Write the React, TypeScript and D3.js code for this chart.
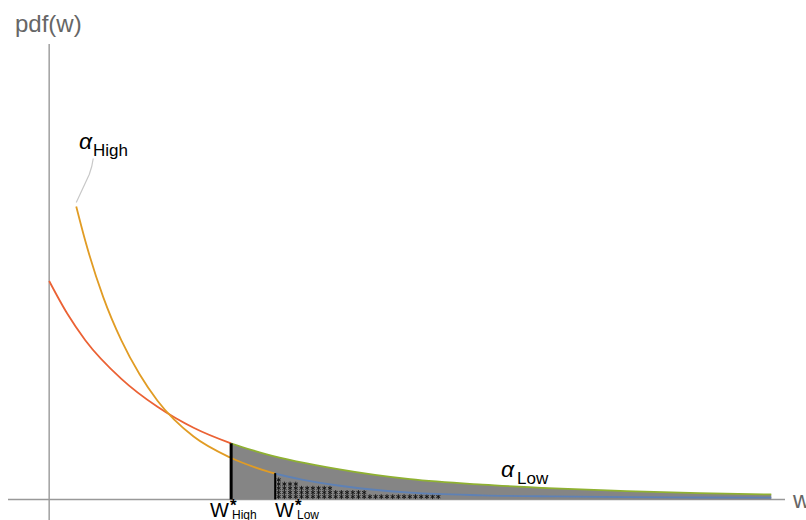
import React from 'react';
import * as d3 from 'd3';

// density for alpha_Low (red, continues in green beyond w*_High)
const lowW = [0, 0.25, 0.5, 1, 1.5, 2, 2.5, 3, 4, 5, 6, 7, 8, 9, 10];
const lowPdf = [1.0, 0.851, 0.729, 0.552, 0.424, 0.328, 0.259, 0.208, 0.139, 0.093, 0.068, 0.051, 0.038, 0.029, 0.023];
// density for alpha_High (orange, continues in blue beyond w*_Low)
const highW = [0.375, 0.5, 0.75, 1, 1.25, 1.5, 2, 2.5, 3, 3.5, 4, 5, 6, 7, 8, 9, 10];
const highPdf = [1.341, 1.184, 0.925, 0.728, 0.574, 0.452, 0.288, 0.193, 0.131, 0.091, 0.064, 0.031, 0.019, 0.014, 0.011, 0.009, 0.008];
// thresholds
const wStarHigh = 2.52;
const wStarLow = 3.13;
// number of '*' marks per hatch row, bottom row first
const starRowCounts = [29, 16, 10, 4, 1];
// axis extents
const xDomain = [-0.57, 10.19];
const yDomain = [-0.094, 2.085];

const WIDTH = 806;
const HEIGHT = 520;
const FONT = 'Liberation Sans, Arial, sans-serif';
const C_LOW = '#EB6235';
const C_HIGH = '#E19C24';
const C_LOW_TAIL = '#8FB131';
const C_HIGH_TAIL = '#5E81B5';

type P = [number, number];

function asterisk(cx: number, cy: number, r: number) {
  let d = '';
  for (let k = 0; k < 3; k++) {
    const a = Math.PI / 2 + (k * Math.PI) / 3;
    const dx = r * Math.cos(a);
    const dy = r * Math.sin(a);
    d += `M${cx - dx},${cy - dy}L${cx + dx},${cy + dy}`;
  }
  return d;
}

export default function App() {
  const xs = d3.scaleLinear().domain(xDomain).range([8, 785]);
  const ys = d3.scaleLinear().domain(yDomain).range([520, 44]);

  const lowPts: P[] = lowW.map((w, i) => [w, lowPdf[i]]);
  const highPts: P[] = highW.map((w, i) => [w, highPdf[i]]);

  const line = d3
    .line<P>()
    .x((d) => xs(d[0]))
    .y((d) => ys(d[1]))
    .curve(d3.curveMonotoneX);
  const area = d3
    .area<P>()
    .x((d) => xs(d[0]))
    .y0(ys(0))
    .y1((d) => ys(d[1]))
    .curve(d3.curveMonotoneX);

  const lowAt = d3.scaleLinear().domain(lowW).range(lowPdf);
  const highAt = d3.scaleLinear().domain(highW).range(highPdf);

  const xh = xs(wStarHigh);
  const xl = xs(wStarLow);
  const y0 = ys(0);

  const stars: string[] = [];
  starRowCounts.forEach((n, row) => {
    const cy = y0 - 2.8 - row * 4.2;
    for (let i = 0; i < n; i++) {
      stars.push(asterisk(xl + 3.5 + i * 5.7, cy, 2.4));
    }
  });

  const startX = xs(highW[0]);
  const startY = ys(highPdf[0]);

  return (
    <svg
      width={WIDTH}
      height={HEIGHT}
      style={{ position: 'absolute', left: 0, top: 0 }}
      fontFamily={FONT}
    >
      <defs>
        <clipPath id="leftHigh">
          <rect x={0} y={0} width={xh} height={HEIGHT} />
        </clipPath>
        <clipPath id="rightHigh">
          <rect x={xh} y={0} width={WIDTH - xh} height={HEIGHT} />
        </clipPath>
        <clipPath id="leftLow">
          <rect x={0} y={0} width={xl} height={HEIGHT} />
        </clipPath>
        <clipPath id="rightLow">
          <rect x={xl} y={0} width={WIDTH - xl} height={HEIGHT} />
        </clipPath>
      </defs>

      {/* axes */}
      <line x1={xs(xDomain[0])} x2={xs(xDomain[1])} y1={y0} y2={y0} stroke="#999" strokeWidth={1.4} />
      <line x1={xs(0)} x2={xs(0)} y1={ys(yDomain[0])} y2={ys(yDomain[1])} stroke="#999" strokeWidth={1.4} />

      {/* shaded tail */}
      <path d={area(lowPts) ?? ''} fill="#858585" clipPath="url(#rightHigh)" />

      {/* hatch stars */}
      <path d={stars.join('')} stroke="#111" strokeWidth={0.9} fill="none" />

      {/* curves */}
      <path d={line(lowPts) ?? ''} fill="none" stroke={C_LOW} strokeWidth={1.8} clipPath="url(#leftHigh)" />
      <path d={line(lowPts) ?? ''} fill="none" stroke={C_LOW_TAIL} strokeWidth={1.8} clipPath="url(#rightHigh)" />
      <path d={line(highPts) ?? ''} fill="none" stroke={C_HIGH} strokeWidth={1.8} clipPath="url(#leftLow)" />
      <path d={line(highPts) ?? ''} fill="none" stroke={C_HIGH_TAIL} strokeWidth={1.8} clipPath="url(#rightLow)" />

      {/* threshold lines */}
      <line x1={xh} x2={xh} y1={ys(lowAt(wStarHigh))} y2={y0} stroke="#000" strokeWidth={3} />
      <line x1={xl} x2={xl} y1={ys(highAt(wStarLow))} y2={y0} stroke="#000" strokeWidth={2} />

      {/* axis labels */}
      <text x={15} y={32} fontSize={24} fill="#666">pdf(w)</text>
      <text x={793} y={508} fontSize={24} fill="#666">w</text>

      {/* alpha_High label with leader */}
      <path
        d={`M${startX},${startY - 4}L${startX + 13},${startY - 32}Q${startX + 16},${startY - 40} ${startX + 17},${startY - 48}`}
        fill="none"
        stroke="#c8c8c8"
        strokeWidth={1.2}
      />
      <text x={79} y={149} fontSize={23} fontStyle="italic" fill="#000">α</text>
      <text x={93} y={156} fontSize={17} fill="#000">High</text>

      {/* alpha_Low label */}
      <text x={501} y={477} fontSize={23} fontStyle="italic" fill="#000">α</text>
      <text x={517} y={484} fontSize={17} fill="#000">Low</text>

      {/* threshold labels */}
      <text x={210} y={517} fontSize={20} fill="#000">W</text>
      <text x={230} y={511} fontSize={17} fontWeight="bold" fill="#000">*</text>
      <text x={232} y={519} fontSize={12} fill="#000">High</text>
      <text x={275} y={517} fontSize={20} fill="#000">W</text>
      <text x={295} y={511} fontSize={17} fontWeight="bold" fill="#000">*</text>
      <text x={297} y={519} fontSize={12} fill="#000">Low</text>
    </svg>
  );
}
